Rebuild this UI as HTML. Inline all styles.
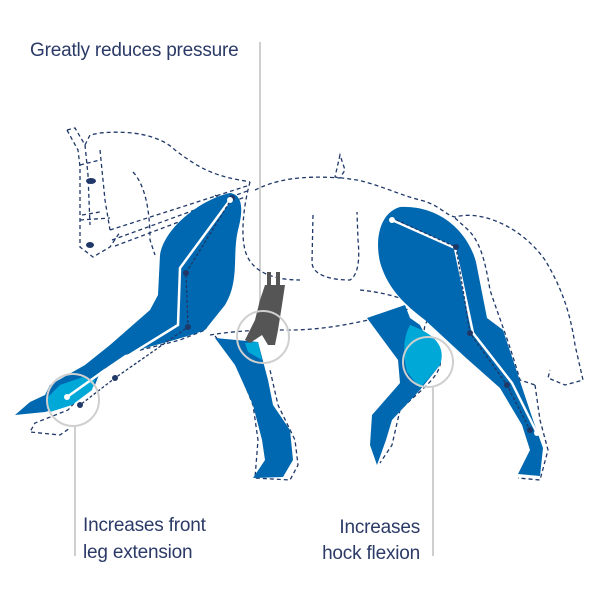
<!DOCTYPE html>
<html><head><style>
html,body{margin:0;padding:0;background:#fff;}
svg{display:block}
text{font-family:"Liberation Sans",sans-serif;fill:#2b3a67;font-size:19px;letter-spacing:-0.2px}
</style></head><body>
<svg width="600" height="600" viewBox="0 0 600 600" xmlns="http://www.w3.org/2000/svg">
<g stroke="#cfcfcf" stroke-width="2" fill="none">
<line x1="260" y1="42" x2="260" y2="312"/>
<line x1="75" y1="425" x2="75" y2="556"/>
<line x1="433" y1="386" x2="433" y2="556"/>
</g>
<g stroke="#1f3868" stroke-width="1.3" fill="none" stroke-dasharray="4,3">
<path d="M67,130 L75,128 L85,145 L90,135 L100,133 C130,130 160,135 175,150 C195,165 210,175 240,180 L250,182"/>
<path d="M67,130 L78,150 L80,167 L80,247 L93,257 L110,247 L120,232"/>
<path d="M85,145 L88,175 L90,225 M100,150 L105,200 L110,230"/>
<path d="M80,165 L100,160 M82,215 L100,212 M80,220 L110,218"/>
<path d="M110,230 L250,185 M112,240 L250,190 M115,246 L245,197"/>
<path d="M133,172 C145,185 150,210 150,240 L155,255"/>
<path d="M250,182 C245,200 240,230 245,250 C250,270 270,280 300,280"/>
<path d="M255,190 C275,180 300,175 340,178 L345,170 L340,155 L335,177 L357,180 C380,185 400,195 420,200 C440,205 445,215 455,217 C480,210 520,225 545,260 C560,285 570,310 575,345 L583,380 L565,385 L548,378 L550,370"/>
<path d="M455,218 L466,228 C480,240 485,260 490,290 C500,320 510,345 520,380 L535,385"/>
<path d="M313,215 L312,262 C312,275 330,280 350,280 C358,275 360,260 358,240 L357,212"/>
<path d="M215,195 C230,205 235,230 232,260 C228,290 215,310 205,330 L180,340 C150,348 130,352 115,358 L95,380 L68,410 L35,423 L30,432 L60,435 L70,428"/>
<path d="M215,336 L235,360 L253,405 L258,440 L255,478 L290,480 L298,465 L295,440 L278,405 L270,370"/>
<path d="M210,335 C240,330 265,330 290,330 C330,330 370,320 400,312 C420,305 428,300 440,300"/>
<path d="M428,320 C420,330 425,345 440,355 C445,375 420,390 400,410 L392,445 L380,463"/>
<path d="M535,385 L540,420 L548,450 L540,480 L518,478"/>
<path d="M360,290 C380,292 395,296 405,300"/>
</g>
<ellipse cx="91" cy="181" rx="5" ry="3" fill="#1f3868"/>
<ellipse cx="90" cy="245" rx="4" ry="3" fill="#1f3868"/>
<g fill="#0068b0">
<path d="M230,193 C245,195 242,215 238,230 C232,255 240,280 225,305 L205,330 C180,340 150,345 125,355 L100,372 L95,385 L70,405 L45,412 L15,415 L30,402 L45,395 L50,385 L85,365 L110,345 L150,310 L158,295 L160,255 C165,225 205,198 230,193 Z"/>
<path d="M215,338 L258,342 L268,380 L273,405 L290,430 L293,460 L283,477 L253,478 L265,460 L262,440 L253,405 L235,365 Z"/>
<path d="M400,207 C382,212 374,235 380,262 C387,288 405,305 425,320 L465,357 L500,388 L522,425 L530,450 L518,474 L540,476 L543,448 L533,420 L517,372 L503,330 L487,318 L476,262 C468,232 440,205 400,207 Z"/>
<path d="M367,318 L405,305 L410,318 L420,325 L440,365 L420,390 L392,420 L386,440 L377,465 L370,445 L372,415 L400,383 L398,360 Z"/>
</g>
<g fill="#00a8d8">
<path d="M410,325 C432,333 447,345 440,365 L420,388 L407,372 Q400,343 410,325 Z"/>
<path d="M83,377 L95,380 L92,390 L72,405 L50,412 L47,398 L60,385 Z"/>
<path d="M245,343 L258,342 L262,360 L248,352 Z"/>
</g>
<g fill="#555">
<path d="M265,285 L285,285 L282,305 L278,330 L275,345 L268,345 L262,335 L250,343 L245,340 L255,320 L260,300 Z"/>
<rect x="267" y="272" width="4" height="15"/><rect x="276" y="272" width="4" height="15"/>
</g>
<g fill="none" stroke="#fff" stroke-width="2.5">
<polyline points="230,200 180,268 178,325 105,370 67,397"/>
<polyline points="392,220 455,248 473,333 512,383 537,433"/>
</g>
<g fill="none" stroke="#1f3868" stroke-width="1.3" stroke-dasharray="3,2">
<polyline points="232,198 186,273 188,327 115,378 80,405"/>
<polyline points="392,218 456,247 470,333 507,385 530,430"/>
</g>
<g fill="#1f3868">
<circle cx="232" cy="198" r="3"/><circle cx="186" cy="273" r="3"/><circle cx="188" cy="327" r="3"/><circle cx="115" cy="378" r="3"/><circle cx="80" cy="405" r="3"/>
<circle cx="456" cy="247" r="3"/><circle cx="470" cy="333" r="3"/><circle cx="507" cy="385" r="3"/><circle cx="530" cy="430" r="3"/>
</g>
<g fill="#fff"><circle cx="230" cy="200" r="3"/><circle cx="67" cy="397" r="3"/><circle cx="392" cy="220" r="3"/><circle cx="537" cy="433" r="3"/></g>
<g fill="none" stroke="#cfcfcf" stroke-width="2">
<circle cx="73" cy="400" r="26"/>
<circle cx="263" cy="337" r="26"/>
<circle cx="428" cy="362" r="25"/>
</g>
<text x="30" y="56">Greatly reduces pressure</text>
<text x="83" y="531">Increases front</text>
<text x="83" y="558">leg extension</text>
<text x="420" y="533" text-anchor="end">Increases</text>
<text x="420" y="559" text-anchor="end">hock flexion</text>
</svg>
</body></html>
